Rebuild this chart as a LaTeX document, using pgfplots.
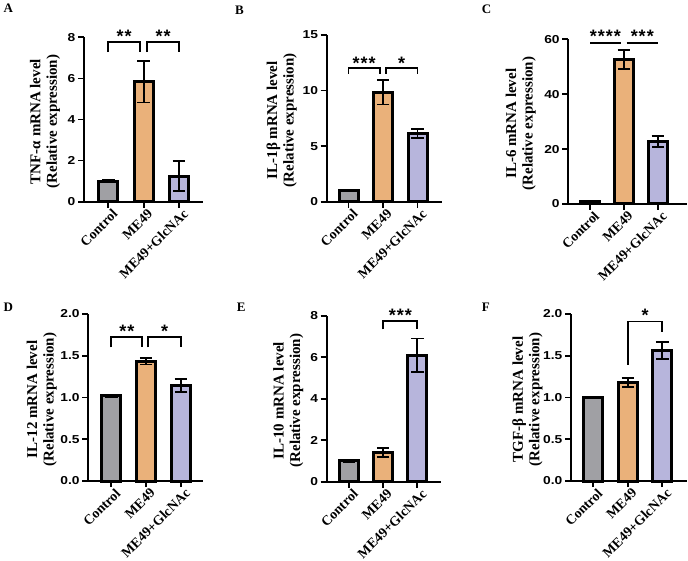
\documentclass[border=0pt]{standalone}
\usepackage{fontspec}
\usepackage{pgfplots}
\pgfplotsset{compat=1.18}
\setmainfont{Liberation Serif}
\newfontfamily\tickfont{Liberation Sans Bold}[FakeStretch=1.2]
\newfontfamily\starfont{Liberation Sans Bold}

\definecolor{cgray}{RGB}{160,160,164}
\definecolor{corange}{RGB}{234,177,122}
\definecolor{cpurple}{RGB}{183,181,220}

\pgfplotsset{
  panel/.style={
    scale only axis,
    axis lines*=left,
    axis line style={line width=1.8pt, -},
    ymin=0,
    xtick={0,1,2},
    xticklabels={Control,ME49,ME49+GlcNAc},
    xticklabel style={font=\fontsize{13.8}{14}\selectfont\bfseries, rotate=45, anchor=north east, inner sep=1pt, xshift=3pt, yshift=-1.5pt},
    yticklabel style={font=\fontsize{11.5}{12}\selectfont\tickfont, /pgf/number format/assume math mode=true, inner sep=2.5pt},
    tick align=outside,
    major tick length=6pt,
    every tick/.style={line width=1.8pt, black},
    clip=false,
    error bars/y dir=both, error bars/y explicit,
    error bars/error bar style={line width=1.8pt, black},
    error bars/error mark options={line width=1.8pt, mark size=6.3pt, black, rotate=90},
  },
  bb/.style={ybar, bar width=19pt, line width=3pt, draw=black, fill=#1},
}
\newcommand{\brk}[4]{\draw[line width=1.8pt] (axis cs:#1,#4) -- (axis cs:#1,#3) -- (axis cs:#2,#3) -- (axis cs:#2,#4);}
\newcommand{\sig}[3]{\node[font=\fontsize{18}{18}\selectfont\starfont, anchor=base, yshift=-10.4pt, inner sep=0pt] at (axis cs:#1,#2) {#3};}
\newcommand{\ylab}[3]{\node[rotate=90, align=center, font=\fontsize{15}{16.5}\selectfont\bfseries] at ([xshift=-#2pt, yshift=-2pt]#1.west) {#3\\(Relative expression)};}
\newcommand{\plab}[3]{\node[font=\fontsize{13}{13}\selectfont\bfseries, anchor=base west, inner sep=0pt] at (#1pt,#2pt) {#3};}

\begin{document}
\begin{tikzpicture}
% A
\begin{axis}[panel, name=pA, at={(84pt,358.3pt)}, anchor=south west,
  width=119.3pt, height=164.4pt, xmin=-0.69, xmax=2.69, ymax=8, ytick={0,2,4,6,8}]
\addplot[bb=cgray] coordinates {(0,1.0) +- (0,0.04)};
\addplot[bb=corange] coordinates {(1,5.83) +- (0,1.0)};
\addplot[bb=cpurple] coordinates {(2,1.25) +- (0,0.73)};
\brk{0}{0.9}{7.77}{7.28}
\brk{1.1}{2}{7.77}{7.28}
\sig{0.45}{8.24}{*\kern1pt*}
\sig{1.55}{8.24}{*\kern1pt*}
\end{axis}
% B
\begin{axis}[panel, name=pB, at={(326.7pt,358.3pt)}, anchor=south west,
  width=115pt, height=166.7pt, xmin=-0.635, xmax=2.70, ymax=15, ytick={0,5,10,15}]
\addplot[bb=cgray] coordinates {(0,1.0) +- (0,0.04)};
\addplot[bb=corange] coordinates {(1,9.85) +- (0,1.1)};
\addplot[bb=cpurple] coordinates {(2,6.15) +- (0,0.4)};
\brk{0}{0.91}{12.0}{11.5}
\brk{1.08}{2}{12.0}{11.5}
\sig{0.45}{12.82}{*\kern1pt*\kern1pt*}
\sig{1.54}{12.82}{*}
\end{axis}
% C
\begin{axis}[panel, name=pC, at={(568.3pt,356pt)}, anchor=south west,
  width=118.4pt, height=164.7pt, xmin=-0.64, xmax=2.85, ymax=60, ytick={0,20,40,60}]
\addplot[bb=cgray] coordinates {(0,0.9) +- (0,0.3)};
\addplot[bb=corange] coordinates {(1,52.6) +- (0,3.4)};
\addplot[bb=cpurple] coordinates {(2,22.7) +- (0,2.0)};
\draw[line width=1.8pt] (axis cs:0,58.76) -- (axis cs:0.91,58.76);
\draw[line width=1.8pt] (axis cs:1.08,58.76) -- (axis cs:2,58.76);
\sig{0.45}{62.55}{*\kern1pt*\kern1pt*\kern1pt*}
\sig{1.54}{62.55}{*\kern1pt*\kern1pt*}
\end{axis}
% D
\begin{axis}[panel, name=pD, at={(88.3pt,79pt)}, anchor=south west,
  width=115pt, height=167pt, xmin=-0.66, xmax=2.64, ymax=2, ytick={0,0.5,1,1.5,2},
  yticklabel style={/pgf/number format/fixed, /pgf/number format/fixed zerofill, /pgf/number format/precision=1}]
\addplot[bb=cgray] coordinates {(0,1.02) +- (0,0.012)};
\addplot[bb=corange] coordinates {(1,1.435) +- (0,0.04)};
\addplot[bb=cpurple] coordinates {(2,1.145) +- (0,0.075)};
\brk{0}{0.89}{1.72}{1.60}
\brk{1.06}{2}{1.72}{1.60}
\sig{0.45}{1.84}{*\kern1pt*}
\sig{1.53}{1.84}{*}
\end{axis}
% E
\begin{axis}[panel, name=pE, at={(326.7pt,78.3pt)}, anchor=south west,
  width=114.3pt, height=166pt, xmin=-0.65, xmax=2.69, ymax=8, ytick={0,2,4,6,8}]
\addplot[bb=cgray] coordinates {(0,1.0) +- (0,0.04)};
\addplot[bb=corange] coordinates {(1,1.4) +- (0,0.22)};
\addplot[bb=cpurple] coordinates {(2,6.1) +- (0,0.8)};
\brk{1}{2}{7.76}{7.34}
\sig{1.5}{8.24}{*\kern1pt*\kern1pt*}
\end{axis}
% F
\begin{axis}[panel, name=pF, at={(571pt,79pt)}, anchor=south west,
  width=115.7pt, height=167pt, xmin=-0.65, xmax=2.71, ymax=2, ytick={0,0.5,1,1.5,2},
  yticklabel style={/pgf/number format/fixed, /pgf/number format/fixed zerofill, /pgf/number format/precision=1}]
\addplot[bb=cgray] coordinates {(0,1.0) +- (0,0.005)};
\addplot[bb=corange] coordinates {(1,1.18) +- (0,0.055)};
\addplot[bb=cpurple] coordinates {(2,1.56) +- (0,0.1)};
\draw[line width=1.8pt] (axis cs:1,1.39) -- (axis cs:1,1.91) -- (axis cs:2,1.91) -- (axis cs:2,1.79);
\sig{1.5}{2.03}{*}
\end{axis}
\ylab{pA}{39}{TNF-α mRNA level}
\ylab{pB}{45}{IL-1β mRNA level}
\ylab{pC}{47.5}{IL-6 mRNA level}
\ylab{pD}{46.6}{IL-12 mRNA level}
\ylab{pE}{38.4}{IL-10 mRNA level}
\ylab{pF}{43.5}{TGF-β mRNA level}
\plab{3.3}{547.3}{A}
\plab{235}{545}{B}
\plab{481.7}{546.7}{C}
\plab{3.3}{248.3}{D}
\plab{236.7}{248.3}{E}
\plab{481.7}{248.3}{F}
\pgfresetboundingbox
\path[use as bounding box] (0,0) rectangle (688pt,560pt);
\end{tikzpicture}
\end{document}
